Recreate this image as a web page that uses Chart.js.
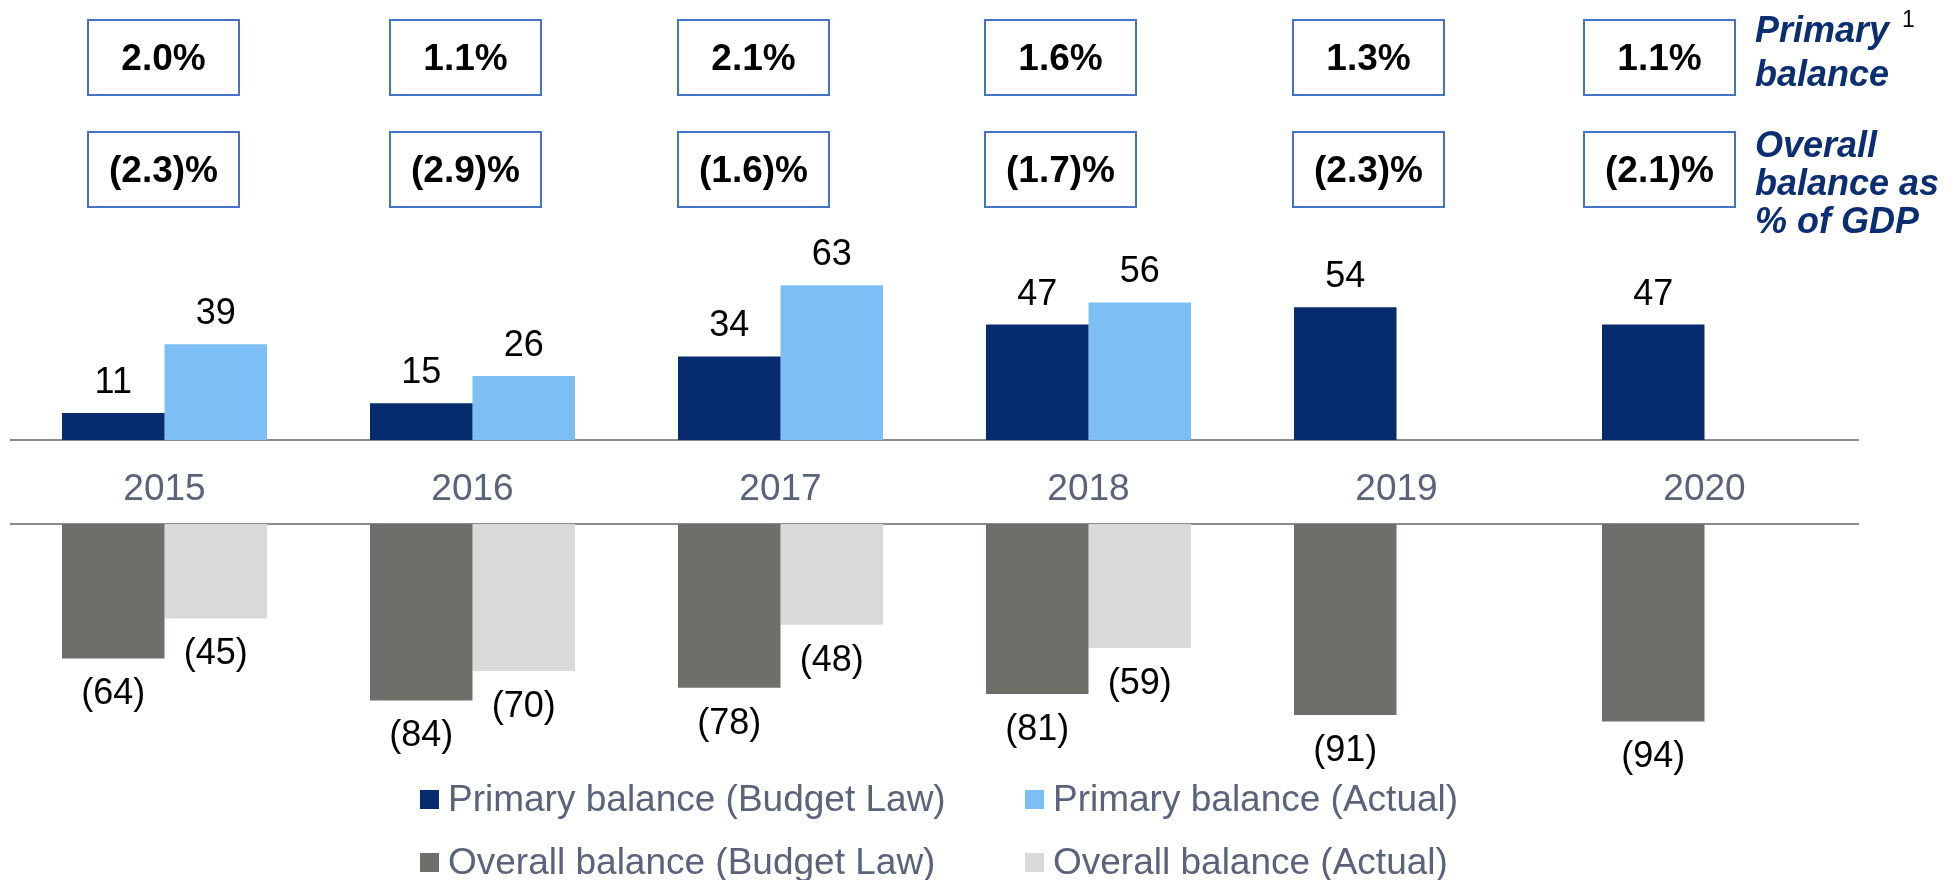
<!DOCTYPE html>
<html>
<head>
<meta charset="utf-8">
<title>Primary and overall balance</title>
<script src="https://cdn.jsdelivr.net/npm/chart.js@4.4.1/dist/chart.umd.min.js"></script>
<style>
    html, body { margin: 0; padding: 0; background: #fff; }
    body {
        width: 1950px; height: 880px; position: relative; overflow: hidden;
        font-family: "Liberation Sans", Arial, sans-serif;
    }
    #topChart { position: absolute; left: 0; top: 0; }
    #botChart { position: absolute; left: 0; top: 480px; }
    #legend {
        position: absolute; left: 420px; top: 778px;
        display: grid; grid-template-columns: 605px 500px; grid-auto-rows: 63px;
    }
    .lg-item { display: flex; align-items: center; height: 42px; white-space: nowrap; }
    .lg-box { width: 19px; height: 19px; margin-right: 9px; flex: none; }
    .lg-text { font-size: 37px; line-height: 42px; color: #5a6379; }
</style>
</head>
<body>
<canvas id="topChart" width="1950" height="525"></canvas>
<canvas id="botChart" width="1950" height="300"></canvas>
<div id="legend"></div>

<script>
    'use strict';

    // ── Data ─────────────────────────────────────────────────────────────────
    var years         = ['2015', '2016', '2017', '2018', '2019', '2020'];
    var primaryBudget = [11, 15, 34, 47, 54, 47];
    var primaryActual = [39, 26, 63, 56, null, null];
    var overallBudget = [-64, -84, -78, -81, -91, -94];
    var overallActual = [-45, -70, -48, -59, null, null];
    // balance as % of GDP (boxes above the bars)
    var primaryPctGdp = [2.0, 1.1, 2.1, 1.6, 1.3, 1.1];
    var overallPctGdp = [-2.3, -2.9, -1.6, -1.7, -2.3, -2.1];

    var seriesNames  = ['Primary balance (Budget Law)', 'Primary balance (Actual)',
                        'Overall balance (Budget Law)', 'Overall balance (Actual)'];
    var seriesColors = ['#072c6e', '#7dbff5', '#6d706a', '#d9d9d9'];

    // ── Layout bits ──────────────────────────────────────────────────────────
    var FONT      = '"Liberation Sans", Arial, sans-serif';
    var AXIS_GREY = '#8c8c8c';
    var TICK_GREY = '#5a6379';
    var NAVY      = '#0b2e72';
    // boxes were nudged by hand in the original slide
    var boxShift  = [-1, -7, -27, -28, -28, -45];
    var sideNotes = [
        { text: 'Primary',    y: 42 },
        { text: 'balance',    y: 86 },
        { text: 'Overall',    y: 157 },
        { text: 'balance as', y: 195 },
        { text: '% of GDP',   y: 233 }
    ];

    function pct(v) {
        return v < 0 ? '(' + (-v).toFixed(1) + ')%' : v.toFixed(1) + '%';
    }

    // ── Plugins ──────────────────────────────────────────────────────────────
    var barLabels = {
        id: 'barLabels',
        afterDatasetsDraw: function(chart) {
            var ctx = chart.ctx;
            ctx.save();
            ctx.font = '36px ' + FONT;
            ctx.fillStyle = '#000';
            ctx.textAlign = 'center';
            chart.data.datasets.forEach(function(ds, di) {
                chart.getDatasetMeta(di).data.forEach(function(bar, i) {
                    var v = ds.data[i];
                    if (v === null || v === undefined) return;
                    if (v >= 0) {
                        ctx.textBaseline = 'alphabetic';
                        ctx.fillText(String(v), bar.x, bar.y - 20);
                    } else {
                        ctx.textBaseline = 'middle';
                        ctx.fillText('(' + (-v) + ')', bar.x, bar.y + 36);
                    }
                });
            });
            ctx.restore();
        }
    };

    var gdpBoxes = {
        id: 'gdpBoxes',
        afterDraw: function(chart) {
            var ctx = chart.ctx;
            var xs  = chart.scales.x;
            var w = 151, h = 75;
            ctx.save();
            years.forEach(function(y, i) {
                var cx = xs.getPixelForValue(i) + boxShift[i];
                [[20, pct(primaryPctGdp[i])], [132, pct(overallPctGdp[i])]].forEach(function(b) {
                    ctx.lineWidth = 2;
                    ctx.strokeStyle = '#4472c4';
                    ctx.strokeRect(cx - w / 2, b[0], w, h);
                    ctx.font = 'bold 37px ' + FONT;
                    ctx.fillStyle = '#000';
                    ctx.textAlign = 'center';
                    ctx.textBaseline = 'middle';
                    ctx.fillText(b[1], cx, b[0] + h / 2 + 2);
                });
            });
            // side notes on the right
            ctx.textAlign = 'left';
            ctx.textBaseline = 'alphabetic';
            ctx.fillStyle = NAVY;
            ctx.font = 'italic bold 36px ' + FONT;
            sideNotes.forEach(function(n) { ctx.fillText(n.text, 1755, n.y); });
            ctx.fillStyle = '#000';
            ctx.font = '23px ' + FONT;
            ctx.fillText('1', 1902, 27);
            ctx.restore();
        }
    };

    // ── Charts ───────────────────────────────────────────────────────────────
    var barDefaults = { categoryPercentage: 0.6656, barPercentage: 1 };

    new Chart(document.getElementById('topChart'), {
        type: 'bar',
        data: {
            labels: years,
            datasets: [
                { label: seriesNames[0], data: primaryBudget, backgroundColor: seriesColors[0] },
                { label: seriesNames[1], data: primaryActual, backgroundColor: seriesColors[1] }
            ]
        },
        options: {
            responsive: false,
            animation: false,
            layout: { padding: { left: 10.5, right: 91.5, top: 268, bottom: 0 } },
            datasets: { bar: barDefaults },
            plugins: { legend: { display: false }, tooltip: { enabled: false } },
            scales: {
                x: {
                    grid: { display: false },
                    border: { display: true, color: AXIS_GREY, width: 2 },
                    ticks: { color: TICK_GREY, font: { size: 37, family: FONT }, padding: 20 },
                    afterFit: function(s) { s.height = 85; }
                },
                y: { display: false, min: 0, max: 70 }
            }
        },
        plugins: [barLabels, gdpBoxes]
    });

    new Chart(document.getElementById('botChart'), {
        type: 'bar',
        data: {
            labels: years,
            datasets: [
                { label: seriesNames[2], data: overallBudget, backgroundColor: seriesColors[2] },
                { label: seriesNames[3], data: overallActual, backgroundColor: seriesColors[3] }
            ]
        },
        options: {
            responsive: false,
            animation: false,
            layout: { padding: { left: 10.5, right: 91.5, top: 44, bottom: 46 } },
            datasets: { bar: barDefaults },
            plugins: { legend: { display: false }, tooltip: { enabled: false } },
            scales: {
                x: {
                    position: 'top',
                    grid: { display: false },
                    ticks: { display: false },
                    border: { display: true, color: AXIS_GREY, width: 2 },
                    afterFit: function(s) { s.height = 0; }
                },
                y: { display: false, min: -100, max: 0 }
            }
        },
        plugins: [barLabels]
    });

    // ── Legend ───────────────────────────────────────────────────────────────
    var legend = document.getElementById('legend');
    seriesNames.forEach(function(name, i) {
        var item = document.createElement('div');
        item.className = 'lg-item';
        var box = document.createElement('span');
        box.className = 'lg-box';
        box.style.background = seriesColors[i];
        var txt = document.createElement('span');
        txt.className = 'lg-text';
        txt.textContent = name;
        item.appendChild(box);
        item.appendChild(txt);
        legend.appendChild(item);
    });
</script>
</body>
</html>
